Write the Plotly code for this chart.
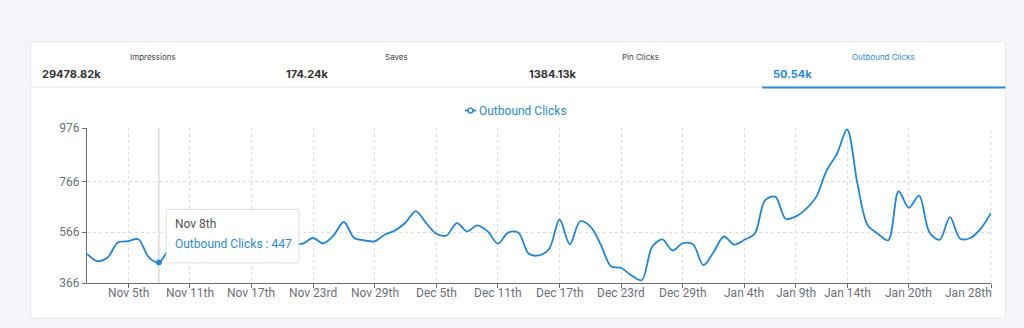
import plotly.graph_objects as go
import pandas as pd

# ---------------- data ----------------
start_date = "2023-11-01"
clicks = [481, 452, 466, 525, 531, 538, 468, 447,
          500, 525, 540, 530, 515, 535, 550, 530, 520, 540, 530, 525, 520,
          521, 543, 522, 553, 606, 543, 534, 530, 557, 573, 603, 649, 603, 560, 553, 602,
          569, 593, 569, 521, 564, 564, 481, 475,
          501, 616, 518, 609, 589, 518, 432, 425, 396, 377, 507, 538, 494, 523, 518, 436,
          488, 549, 517, 536, 560,
          691, 706, 619, 628, 658, 706, 809, 874, 970, 756, 593, 560, 534, 727, 662, 710,
          566, 536, 625, 540, 543, 580, 641]
dates = pd.date_range(start_date, periods=len(clicks), freq="D")

tick_dates = ["2023-11-05", "2023-11-11", "2023-11-17", "2023-11-23", "2023-11-29",
              "2023-12-05", "2023-12-11", "2023-12-17", "2023-12-23", "2023-12-29",
              "2024-01-04", "2024-01-09", "2024-01-14", "2024-01-20", "2024-01-28"]
tick_labels = ["Nov 5th", "Nov 11th", "Nov 17th", "Nov 23rd", "Nov 29th",
               "Dec 5th", "Dec 11th", "Dec 17th", "Dec 23rd", "Dec 29th",
               "Jan 4th", "Jan 9th", "Jan 14th", "Jan 20th", "Jan 28th"]
y_ticks = [366, 566, 766, 976]

metric_names = ["Impressions", "Saves", "Pin Clicks", "Outbound Clicks"]
metric_values = ["29478.82k", "174.24k", "1384.13k", "50.54k"]
active_metric = 3

hover_index = 7
hover_label = "Nov 8th"
series_name = "Outbound Clicks"

# ---------------- geometry helpers ----------------
W, H = 1024, 328
L, R, T, B = 87.3, 990.7, 127.5, 282.7
PW, PH = R - L, B - T


def px(x):
    return (x - L) / PW


def py(y):
    return (B - y) / PH


BLUE = "#1f86d6"
TEXT_BLUE = "#2b8ad8"
AXIS = "#6E7079"
GRID = "#dcdcdc"
FONT = "Roboto"
HFONT = "Inter"

fig = go.Figure()

fig.add_trace(go.Scatter(
    x=dates, y=clicks, mode="lines",
    line=dict(color=BLUE, width=1.8, shape="spline", smoothing=0.9),
    hoverinfo="skip", showlegend=False, cliponaxis=True,
))

fig.add_trace(go.Scatter(
    x=[dates[hover_index]], y=[clicks[hover_index]], mode="markers",
    marker=dict(size=5, color=BLUE, line=dict(color=BLUE, width=1)),
    hoverinfo="skip", showlegend=False, cliponaxis=False,
))

shapes = []
annotations = []

# card
x0, x1, y0, y1, r = px(31), px(1005), py(41), py(318), 5
rx, ry = r / PW, r / PH
card_path = (f"M {x0+rx},{y0} L {x1-rx},{y0} Q {x1},{y0} {x1},{y0-ry} "
             f"L {x1},{y1+ry} Q {x1},{y1} {x1-rx},{y1} L {x0+rx},{y1} "
             f"Q {x0},{y1} {x0},{y1+ry} L {x0},{y0-ry} Q {x0},{y0} {x0+rx},{y0} Z")
shapes.append(dict(type="path", xref="paper", yref="paper", path=card_path,
                   fillcolor="white", line=dict(color="#e3e5e8", width=1), layer="below"))

# header divider + active underline
shapes.append(dict(type="line", xref="paper", yref="paper", x0=px(31), x1=px(1005),
                   y0=py(86.5), y1=py(86.5), line=dict(color="#e2e2e2", width=1), layer="below"))
shapes.append(dict(type="line", xref="paper", yref="paper", x0=px(762), x1=px(1005),
                   y0=py(87), y1=py(87), line=dict(color=TEXT_BLUE, width=2), layer="below"))

# header texts
name_centers = [153, 397, 640, 883]
value_lefts = [42, 286, 529, 773]
for i, (n, v) in enumerate(zip(metric_names, metric_values)):
    col_n = TEXT_BLUE if i == active_metric else "#444"
    col_v = TEXT_BLUE if i == active_metric else "#333"
    annotations.append(dict(xref="paper", yref="paper", x=px(name_centers[i]), y=py(56),
                            text=n, showarrow=False, xanchor="center", yanchor="middle",
                            font=dict(family=HFONT, size=8, color=col_n)))
    annotations.append(dict(xref="paper", yref="paper", x=px(value_lefts[i]) - 2 / PW, y=py(73),
                            text=f"<b>{v}</b>", showarrow=False, xanchor="left", yanchor="middle",
                            font=dict(family=HFONT, size=11, color=col_v)))

# legend (manual)
shapes.append(dict(type="line", xref="paper", yref="paper", x0=px(465), x1=px(476),
                   y0=py(110), y1=py(110), line=dict(color=BLUE, width=1.8), layer="above"))
shapes.append(dict(type="circle", xref="paper", yref="paper", x0=px(468), x1=px(473),
                   y0=py(107.5), y1=py(112.5), fillcolor="white",
                   line=dict(color=BLUE, width=1.3), layer="above"))
annotations.append(dict(xref="paper", yref="paper", x=px(477), y=py(110), text=series_name,
                        showarrow=False, xanchor="left", yanchor="middle",
                        font=dict(family=FONT, size=12, color=TEXT_BLUE)))

# axis pointer line
hx = dates[hover_index]
shapes.append(dict(type="line", xref="x", yref="paper", x0=hx, x1=hx, y0=0, y1=1,
                   line=dict(color="#c8c8c8", width=1), layer="below"))

# right edge dashed grid line
shapes.append(dict(type="line", xref="paper", yref="paper", x0=1, x1=1, y0=0, y1=1,
                   line=dict(color=GRID, width=1, dash="dot"), layer="below"))

# tooltip
shapes.append(dict(type="rect", xref="paper", yref="paper", x0=px(166.5), x1=px(299),
                   y0=py(209), y1=py(262.5), fillcolor="white",
                   line=dict(color="#dddddd", width=1), layer="above"))
annotations.append(dict(xref="paper", yref="paper", x=px(173.5), y=py(224), text=hover_label,
                        showarrow=False, xanchor="left", yanchor="middle",
                        font=dict(family=FONT, size=12, color="#555")))
annotations.append(dict(xref="paper", yref="paper", x=px(173.5), y=py(243.7),
                        text=f"{series_name} : {clicks[hover_index]}",
                        showarrow=False, xanchor="left", yanchor="middle",
                        font=dict(family=FONT, size=12, color=TEXT_BLUE)))

# x tick labels drawn as annotations (last one is pulled inside, as in the original)
for i, (d, lab) in enumerate(zip(tick_dates, tick_labels)):
    last = i == len(tick_dates) - 1
    annotations.append(dict(
        xref="paper" if last else "x", yref="paper",
        x=px(993.5) if last else d, y=py(293),
        text=lab, showarrow=False,
        xanchor="right" if last else "center", yanchor="middle",
        font=dict(family=FONT, size=12, color=AXIS)))

fig.update_layout(
    width=W, height=H,
    margin=dict(l=L, r=W - R, t=T, b=H - B, pad=0),
    paper_bgcolor="#f3f5f8",
    plot_bgcolor="rgba(0,0,0,0)",
    shapes=shapes,
    annotations=annotations,
    showlegend=False,
    font=dict(family=FONT, size=12, color=AXIS),
)

fig.update_xaxes(
    type="date",
    range=[dates[0], pd.Timestamp(tick_dates[-1])],
    tickmode="array", tickvals=tick_dates, ticktext=tick_labels,
    showticklabels=False,
    showgrid=True, gridcolor=GRID, griddash="dot", gridwidth=1,
    showline=True, linecolor=AXIS, linewidth=1,
    ticks="outside", ticklen=4, tickcolor=AXIS,
    zeroline=False, fixedrange=True, automargin=False,
)
fig.update_yaxes(
    range=[366, 976],
    tickmode="array", tickvals=y_ticks, ticktext=[str(v) for v in y_ticks],
    showgrid=True, gridcolor=GRID, griddash="dot", gridwidth=1,
    showline=True, linecolor=AXIS, linewidth=1,
    ticks="outside", ticklen=4, tickcolor=AXIS,
    tickfont=dict(family=FONT, size=12, color=AXIS),
    zeroline=False, fixedrange=True, automargin=False,
)

fig.write_html("out.html", config={"displayModeBar": False})
